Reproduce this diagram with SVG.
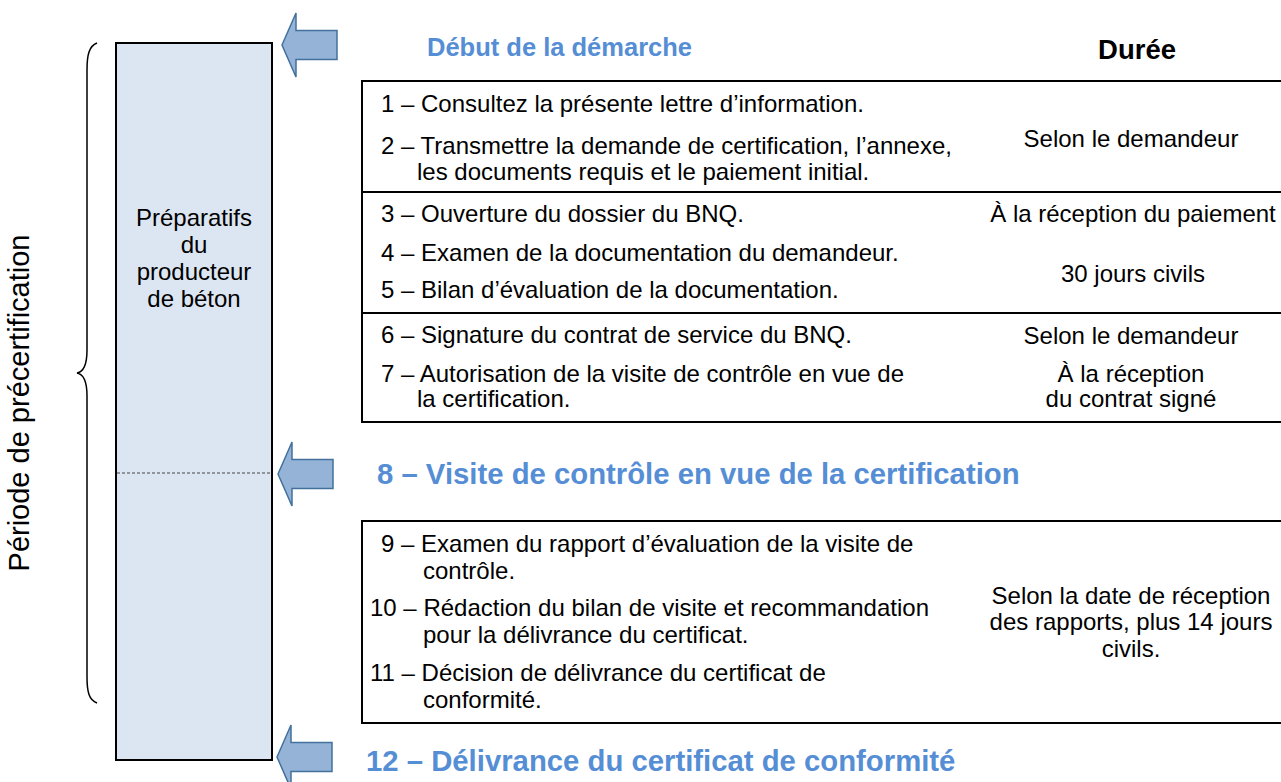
<svg xmlns="http://www.w3.org/2000/svg" width="1281" height="782" viewBox="0 0 1281 782">
<defs>
<style>
.t{font-family:"Liberation Sans",Arial,sans-serif;font-size:24px;fill:#000}
.c{text-anchor:middle}
.h{font-family:"Liberation Sans",Arial,sans-serif;font-weight:bold;fill:#558ED5}
.box{fill:none;stroke:#000;stroke-width:2}
.arrow{fill:#95B3D7;stroke:#41719C;stroke-width:1.5;stroke-linejoin:miter}
</style>
<path id="arr" class="arrow" d="M0,0 L14,-32 L14,-14.5 L55,-14.5 L55,14.5 L14,14.5 L14,32 Z"/>
</defs>
<rect width="1281" height="782" fill="#fff"/>

<g id="period-label">
<path d="M97,43 C89,46 87,55 87,70 L87,350 C87,365 83,372 77,373 C83,374 87,381 87,396 L87,677 C87,692 89,700 97,703" fill="none" stroke="#000" stroke-width="1.5"/>
<text class="t c" style="font-size:29px" transform="translate(29,403) rotate(-90)">Période de précertification</text>
</g>

<g id="prep-column">
<rect x="116" y="43" width="156" height="717" fill="#DCE6F2" stroke="#000" stroke-width="2"/>
<line x1="117" y1="473" x2="271" y2="473" stroke="#444" stroke-width="1" stroke-dasharray="3,2"/>
<text class="t c" x="194" y="226">Préparatifs</text>
<text class="t c" x="194" y="253">du</text>
<text class="t c" x="194" y="280">producteur</text>
<text class="t c" x="194" y="307">de béton</text>
</g>

<g id="connectors">
<use href="#arr" x="282" y="45"/>
<use href="#arr" x="278" y="474"/>
<use href="#arr" x="277" y="757"/>
</g>

<g id="header-start">
<text class="h" style="font-size:25.5px" x="427" y="56">Début de la démarche</text>
</g>
<g id="header-duree">
<text style="font-family:'Liberation Sans',Arial,sans-serif;font-weight:bold;font-size:27.5px" x="1137" y="59" text-anchor="middle">Durée</text>
</g>

<g id="table-1">
<rect class="box" x="362" y="81" width="930" height="341"/>
<line x1="362" y1="192" x2="1292" y2="192" stroke="#000" stroke-width="2"/>
<line x1="362" y1="313" x2="1292" y2="313" stroke="#000" stroke-width="2"/>
<text class="t" x="381" y="112">1 – Consultez la présente lettre d’information.</text>
<text class="t" x="381" y="154">2 – Transmettre la demande de certification, l’annexe,</text>
<text class="t" x="417" y="180">les documents requis et le paiement initial.</text>
<text class="t c" x="1131" y="147">Selon le demandeur</text>
<text class="t" x="381" y="222">3 – Ouverture du dossier du BNQ.</text>
<text class="t" x="381" y="261">4 – Examen de la documentation du demandeur.</text>
<text class="t" x="381" y="298">5 – Bilan d’évaluation de la documentation.</text>
<text class="t c" x="1133" y="222">À la réception du paiement</text>
<text class="t c" x="1133" y="282">30 jours civils</text>
<text class="t" x="381" y="343">6 – Signature du contrat de service du BNQ.</text>
<text class="t" x="381" y="382">7 – Autorisation de la visite de contrôle en vue de</text>
<text class="t" x="417" y="407">la certification.</text>
<text class="t c" x="1131" y="344">Selon le demandeur</text>
<text class="t c" x="1131" y="382">À la réception</text>
<text class="t c" x="1131" y="407">du contrat signé</text>
</g>

<g id="header-visit">
<text class="h" style="font-size:29.3px" x="377" y="484">8 – Visite de contrôle en vue de la certification</text>
</g>

<g id="table-2">
<rect class="box" x="362" y="521" width="930" height="202"/>
<text class="t" x="381" y="552">9 – Examen du rapport d’évaluation de la visite de</text>
<text class="t" x="423" y="579">contrôle.</text>
<text class="t" x="370" y="616">10 – Rédaction du bilan de visite et recommandation</text>
<text class="t" x="423" y="643">pour la délivrance du certificat.</text>
<text class="t" x="370" y="681">11 – Décision de délivrance du certificat de</text>
<text class="t" x="423" y="708">conformité.</text>
<text class="t c" x="1131" y="604">Selon la date de réception</text>
<text class="t c" x="1131" y="630">des rapports, plus 14 jours</text>
<text class="t c" x="1131" y="657">civils.</text>
</g>

<g id="header-delivery">
<text class="h" style="font-size:29.3px" x="366" y="771">12 – Délivrance du certificat de conformité</text>
</g>
</svg>
